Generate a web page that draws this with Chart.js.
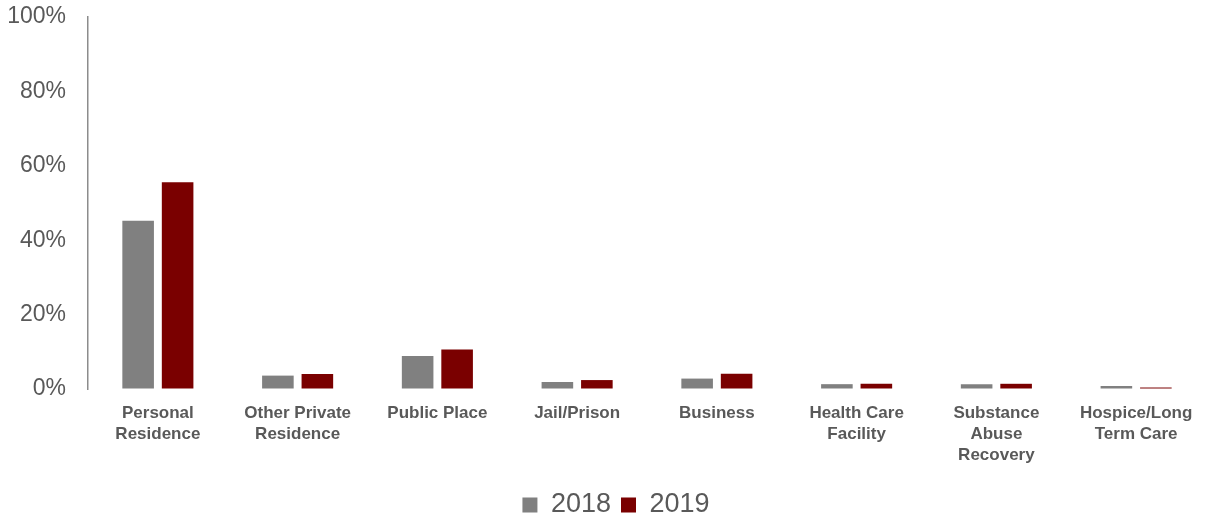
<!DOCTYPE html>
<html>
<head>
<meta charset="utf-8">
<script src="https://cdn.jsdelivr.net/npm/chart.js@4/dist/chart.umd.min.js"></script>
<style>
  html, body { margin: 0; padding: 0; background: #ffffff; }
  #wrap { width: 1206px; height: 520px; }
</style>
</head>
<body>
<div id="wrap"><canvas id="chart" width="1206" height="520"></canvas></div>
<script>
// Location of death, share of cases by year (%)
const categories = [
  ["Personal", "Residence"],
  ["Other Private", "Residence"],
  "Public Place",
  "Jail/Prison",
  "Business",
  ["Health Care", "Facility"],
  ["Substance", "Abuse", "Recovery"],
  ["Hospice/Long", "Term Care"]
];
const years = ["2018", "2019"];
const values2018 = [45.2, 3.6, 8.9, 1.9, 2.8, 1.3, 1.3, 0.8];
const values2019 = [55.6, 4.0, 10.6, 2.4, 4.1, 1.4, 1.4, 0.4];
const yTicks = [0, 20, 40, 60, 80, 100];

const textColor = "#595959";
const fontFamily = "'Liberation Sans', Arial, sans-serif";

// Nudge the bottom legend so it sits centred under the plot rather than the canvas
const legendShift = {
  id: "legendShift",
  afterLayout(chart) {
    if (chart.legend) {
      chart.legend.left += 26;
    }
  }
};

new Chart(document.getElementById("chart"), {
  type: "bar",
  data: {
    labels: categories,
    datasets: [
      {
        label: years[0],
        data: values2018,
        backgroundColor: "#808080",
        borderWidth: 0
      },
      {
        label: years[1],
        data: values2019,
        backgroundColor: "#7a0000",
        borderWidth: 0
      }
    ]
  },
  plugins: [legendShift],
  options: {
    responsive: false,
    animation: false,
    devicePixelRatio: 1,
    layout: { padding: { top: 17, left: 0, right: 0, bottom: -8.5 } },
    datasets: {
      bar: { categoryPercentage: 0.565, barPercentage: 0.8 }
    },
    plugins: {
      tooltip: { enabled: false },
      legend: {
        position: "bottom",
        labels: {
          color: textColor,
          font: { family: fontFamily, size: 27 },
          boxWidth: 15,
          boxHeight: 15,
          padding: 10
        }
      }
    },
    scales: {
      x: {
        grid: { display: false },
        border: { display: false },
        ticks: {
          color: textColor,
          font: { family: fontFamily, size: 17, weight: "bold", lineHeight: 1.25 },
          padding: 5.5,
          maxRotation: 0,
          autoSkip: false
        },
        afterFit(scale) { scale.height = 92.5; }
      },
      y: {
        min: 0,
        max: 100,
        grid: {
          display: true,
          drawOnChartArea: false,
          drawTicks: true,
          tickLength: 22,
          color: "rgba(0,0,0,0)"
        },
        border: { display: true, color: "#8c8c8c", width: 1.5 },
        afterBuildTicks(scale) { scale.ticks = yTicks.map(v => ({ value: v })); },
        ticks: {
          color: textColor,
          font: { family: fontFamily, size: 23 },
          padding: 0,
          callback: v => v + "%"
        },
        afterFit(scale) { scale.width = 88; }
      }
    }
  }
});
</script>
</body>
</html>
